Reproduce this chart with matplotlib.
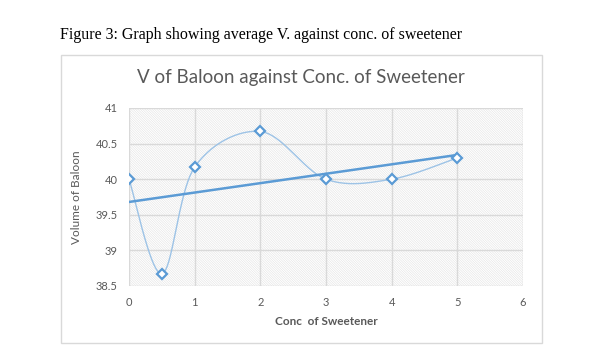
import matplotlib
matplotlib.use("Agg")
import matplotlib.pyplot as plt
import numpy as np
from matplotlib.patches import Rectangle

conc = [0, 0.5, 1, 2, 3, 4, 5]
volume = [40.0, 38.67, 40.17, 40.67, 40.0, 40.0, 40.3]
x_ticks = [0, 1, 2, 3, 4, 5, 6]
y_ticks = [38.5, 39, 39.5, 40, 40.5, 41]
y_labels = ["38.5", "39", "39.5", "40", "40.5", "41"]

BLUE = "#5b9bd5"
LIGHT = "#9dc3e6"
GRID = "#d9d9d9"
TXT = "#595959"
SANS = ["Lato", "DejaVu Sans"]

plt.rcParams["hatch.linewidth"] = 0.4


def smooth(x, y, n=40):
    # Catmull-Rom style smoothing like Excel's "smoothed line"
    x = np.asarray(x, float)
    y = np.asarray(y, float)
    px = np.concatenate([[x[0]], x, [x[-1]]])
    py = np.concatenate([[y[0]], y, [y[-1]]])
    xs, ys = [], []
    t = np.linspace(0, 1, n)
    for i in range(1, len(px) - 2):
        p0, p1, p2, p3 = [np.array([px[j], py[j]]) for j in (i - 1, i, i + 1, i + 2)]
        c1 = p1 + (p2 - p0) / 6
        c2 = p2 - (p3 - p1) / 6
        b = ((1 - t) ** 3)[:, None] * p1 + (3 * (1 - t) ** 2 * t)[:, None] * c1 \
            + (3 * (1 - t) * t ** 2)[:, None] * c2 + (t ** 3)[:, None] * p2
        xs.extend(b[:, 0])
        ys.extend(b[:, 1])
    return np.array(xs), np.array(ys)


fig = plt.figure(figsize=(6.02, 3.57), dpi=100)
W, H = 602, 357

fig.text(60 / W, 1 - 35 / H, "Figure 3: Graph showing average V. against conc. of sweetener",
         family="Liberation Serif", fontsize=11.5, va="center", ha="left", color="black")

# chart frame
fig.patches.append(Rectangle((61 / W, 1 - 343 / H), (542 - 61) / W, (343 - 55) / H,
                             transform=fig.transFigure, fill=False, edgecolor=GRID, lw=1))

fig.text(301 / W, 1 - 78 / H, "V of Baloon against Conc. of Sweetener",
         family=SANS, fontsize=13.5, color=TXT, ha="center", va="center")

ax = fig.add_axes([129 / W, 1 - 286 / H, (523 - 129) / W, (286 - 108) / H])
ax.add_patch(Rectangle((0, 0), 1, 1, transform=ax.transAxes, facecolor="white",
                       edgecolor="#e2e2e2", hatch="\\" * 14, lw=0, zorder=0))

ax.set_xlim(0, 6)
ax.set_ylim(38.5, 41)
ax.set_xticks(x_ticks)
ax.set_yticks(y_ticks, y_labels)
ax.grid(True, color=GRID, lw=1)
ax.set_axisbelow(True)
for s in ax.spines.values():
    s.set_visible(False)
ax.tick_params(length=0, labelsize=8, colors=TXT, pad=8)
for lab in ax.get_xticklabels() + ax.get_yticklabels():
    lab.set_family(SANS)

sx, sy = smooth(conc, volume)
ax.plot(sx, sy, color=LIGHT, lw=1, zorder=2)

k, b = np.polyfit(conc, volume, 1)
tx = np.array([conc[0], conc[-1]])
ax.plot(tx, k * tx + b, color=BLUE, lw=1.8, zorder=3)

ax.plot(conc, volume, ls="none", marker="D", ms=5, mfc="white", mec=BLUE, mew=1.6, zorder=4)

ax.set_xlabel("Conc  of Sweetener", family=SANS, fontsize=8.5, color=TXT, fontweight="bold", labelpad=6)
ax.set_ylabel("Volume of Baloon", family=SANS, fontsize=8.5, color=TXT, labelpad=10)

fig.savefig("out.png", dpi=100)
